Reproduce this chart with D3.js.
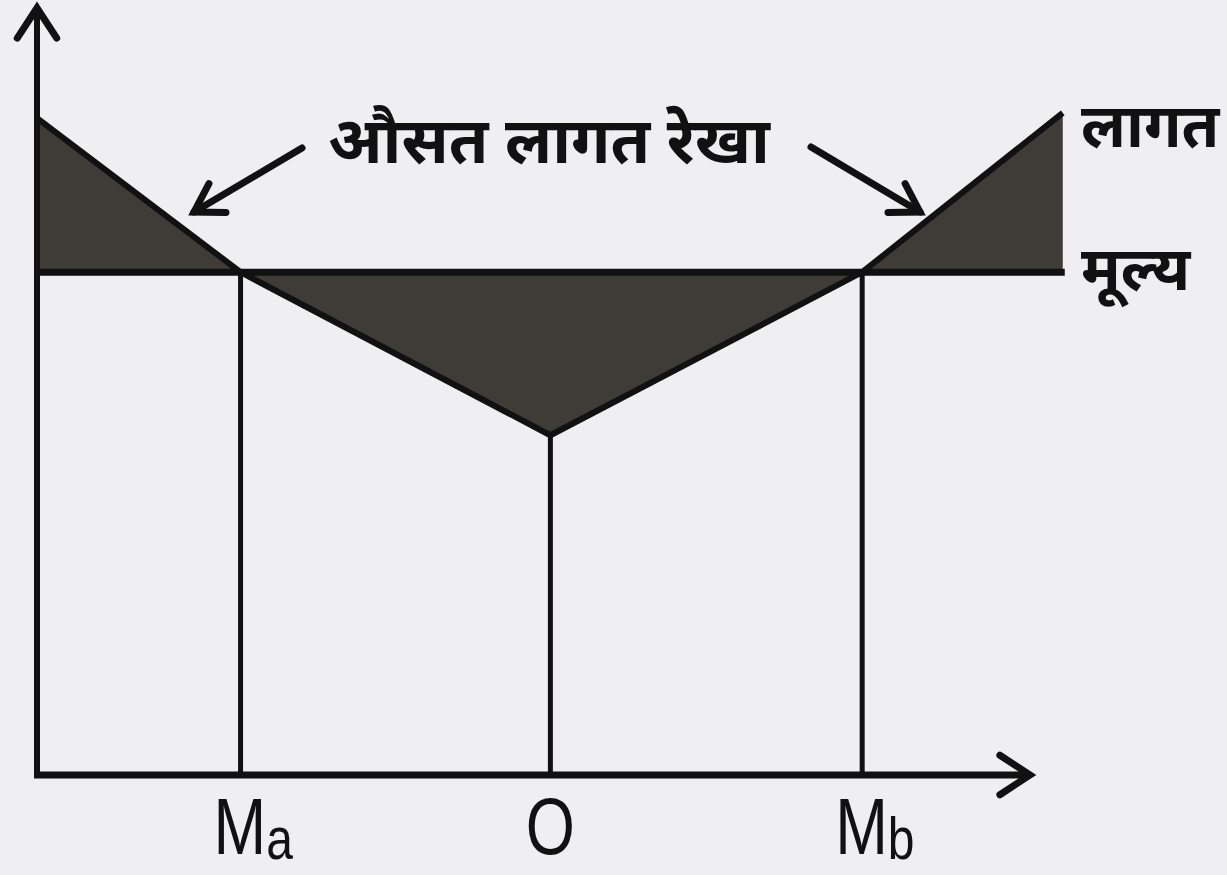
<!DOCTYPE html>
<html lang="hi">
<head>
<meta charset="UTF-8">
<title>औसत लागत रेखा</title>
<script src="https://d3js.org/d3.v7.min.js"></script>
<style>
    body { margin: 0; background: #efeff2; overflow: hidden; }
    svg { display: block; }
    .hindi { font-family: "Noto Sans Devanagari", "Noto Sans", sans-serif; font-weight: bold; fill: #111; }
    .axislabel { font-family: "Liberation Sans", Arial, sans-serif; fill: #111; }
</style>
</head>
<body>
<div id="chart"></div>
<script>
// quantity positions on the x axis (0..100 = axis length)
const qPoints = [0, 20.5, 51.7, 83.1, 103.3];
// average cost at those positions (0..100 = axis height)
const avgCost = [87, 66.6, 45, 66.6, 87.7];
const price = 66.6;
const tickNames = ["Ma", "O", "Mb"];
const tickQ = [20.5, 51.7, 83.1];
const title = "औसत लागत रेखा";
const sideLabels = ["लागत", "मूल्य"];

const W = 1227, H = 875;
const svg = d3.select("#chart").append("svg")
    .attr("width", W).attr("height", H);

const x = d3.scaleLinear().domain([0, 100]).range([37, 1030]);
const y = d3.scaleLinear().domain([0, 100]).range([775, 20]);

const pts = qPoints.map((q, i) => ({q: q, c: avgCost[i]}));

// shaded gap between cost line and price line
const area = d3.area()
    .x(d => x(d.q))
    .y0(y(price))
    .y1(d => y(d.c));
svg.append("path")
    .datum(pts)
    .attr("d", area)
    .attr("fill", "#3f3c38");

// vertical lines at Ma, O, Mb
svg.selectAll(".drop")
    .data(tickQ)
    .enter().append("line")
    .attr("x1", d => x(d)).attr("x2", d => x(d))
    .attr("y1", (d, i) => y(avgCost[i + 1]))
    .attr("y2", y(0))
    .attr("stroke", "#111").attr("stroke-width", 5);

// price line
svg.append("line")
    .attr("x1", x(0)).attr("x2", x(qPoints[qPoints.length - 1]) + 2)
    .attr("y1", y(price)).attr("y2", y(price))
    .attr("stroke", "#111").attr("stroke-width", 7);

// average cost line
svg.append("path")
    .datum(pts)
    .attr("d", d3.line().x(d => x(d.q)).y(d => y(d.c)))
    .attr("fill", "none")
    .attr("stroke", "#111").attr("stroke-width", 6)
    .attr("stroke-linejoin", "round");

// axes
svg.append("line")
    .attr("x1", x(0)).attr("x2", x(0))
    .attr("y1", y(0) + 2).attr("y2", y(100) - 10)
    .attr("stroke", "#111").attr("stroke-width", 6);
svg.append("line")
    .attr("x1", x(0) - 3).attr("x2", x(100) - 3)
    .attr("y1", y(0)).attr("y2", y(0))
    .attr("stroke", "#111").attr("stroke-width", 7);

function arrowHead(tx, ty, angle, len, spread) {
    // open V head pointing in direction angle
    const a1 = angle + Math.PI - spread, a2 = angle + Math.PI + spread;
    const p = d3.path();
    p.moveTo(tx + len * Math.cos(a1), ty + len * Math.sin(a1));
    p.lineTo(tx, ty);
    p.lineTo(tx + len * Math.cos(a2), ty + len * Math.sin(a2));
    svg.append("path")
        .attr("d", p.toString())
        .attr("fill", "none")
        .attr("stroke", "#111").attr("stroke-width", 7)
        .attr("stroke-linejoin", "miter").attr("stroke-linecap", "round");
}
arrowHead(x(0), y(100) - 12, -Math.PI / 2, 36, 0.58);
arrowHead(x(100), y(0), 0, 36, 0.58);

// pointer arrows to the cost line
function pointer(x1, y1, x2, y2) {
    svg.append("line")
        .attr("x1", x1).attr("y1", y1).attr("x2", x2).attr("y2", y2)
        .attr("stroke", "#111").attr("stroke-width", 7)
        .attr("stroke-linecap", "round");
    arrowHead(x2, y2, Math.atan2(y2 - y1, x2 - x1), 32, 0.55);
}
pointer(302, 148, 194, 212);
pointer(811, 147, 920, 212);

// labels
svg.append("text")
    .attr("class", "hindi")
    .attr("x", 549).attr("y", 163)
    .attr("text-anchor", "middle")
    .attr("font-size", 64)
    .text(title);
svg.append("text")
    .attr("class", "hindi")
    .attr("x", 1081).attr("y", 147)
    .attr("font-size", 61)
    .text(sideLabels[0]);
svg.append("text")
    .attr("class", "hindi")
    .attr("x", 1081).attr("y", 290)
    .attr("font-size", 61)
    .text(sideLabels[1]);

// x tick labels, squeezed horizontally like the printed narrow face
const tl = svg.selectAll(".tick-label")
    .data(tickNames)
    .enter().append("text")
    .attr("class", "axislabel")
    .attr("transform", (d, i) => "translate(" + (x(tickQ[i]) + (d.length > 1 ? -27 : 0)) + ",854) scale(0.8,1)")
    .attr("text-anchor", d => d.length > 1 ? "start" : "middle")
    .attr("font-size", 79);
tl.append("tspan").text(d => d[0]);
tl.filter(d => d.length > 1)
    .append("tspan")
    .attr("dy", 5)
    .attr("font-size", 60)
    .text(d => d.slice(1));
</script>
</body>
</html>
